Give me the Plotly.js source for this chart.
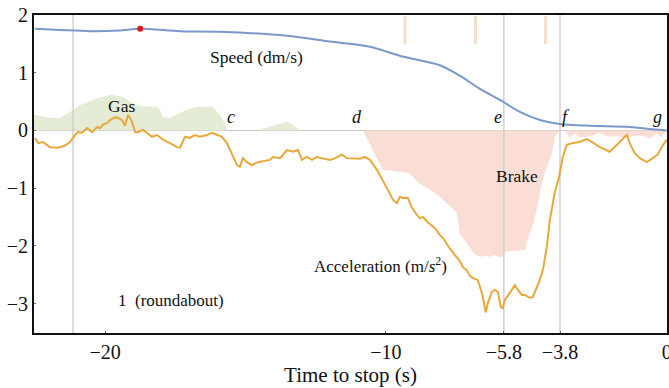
<!DOCTYPE html>
<html>
<head>
<meta charset="utf-8">
<script src="https://cdn.plot.ly/plotly-3.0.1.min.js"></script>
<style>
  html, body { margin: 0; padding: 0; background: #fff; }
  #chart { width: 669px; height: 388px; }
</style>
</head>
<body>
<div id="chart"></div>
<script>
// Time to stop (s)
const accelTime = [-22.49,-22.38,-22.21,-21.96,-21.67,-21.46,-21.25,-21.07,-20.96,-20.82,-20.64,-20.46,-20.28,-20.18,-20.07,-19.93,-19.82,-19.64,-19.54,-19.40,-19.29,-19.18,-19.04,-18.93,-18.83,-18.65,-18.51,-18.33,-18.15,-17.94,-17.69,-17.44,-17.33,-17.15,-16.98,-16.80,-16.62,-16.37,-16.19,-16.01,-15.84,-15.66,-15.48,-15.30,-15.20,-15.09,-14.95,-14.77,-14.56,-14.31,-14.13,-14.02,-13.77,-13.52,-13.31,-13.13,-12.99,-12.81,-12.63,-12.46,-12.24,-11.99,-11.81,-11.57,-11.39,-11.17,-10.92,-10.75,-10.57,-10.32,-10.11,-9.93,-9.75,-9.61,-9.50,-9.40,-9.22,-9.08,-8.90,-8.79,-8.68,-8.51,-8.26,-8.08,-7.97,-7.72,-7.54,-7.37,-7.26,-7.12,-7.01,-6.90,-6.73,-6.58,-6.44,-6.37,-6.23,-6.12,-6.01,-5.91,-5.84,-5.77,-5.59,-5.41,-5.30,-5.16,-5.05,-4.88,-4.77,-4.63,-4.52,-4.41,-4.27,-4.16,-3.99,-3.84,-3.70,-3.56,-3.35,-3.10,-2.85,-2.67,-2.38,-2.03,-1.85,-1.67,-1.49,-1.42,-1.32,-1.14,-0.96,-0.71,-0.50,-0.32,-0.18,-0.07,0];
// Acceleration (m/s^2)
const accel = [-0.13,-0.22,-0.20,-0.29,-0.30,-0.27,-0.20,-0.08,-0.03,-0.04,0.04,-0.03,0.06,0.04,0.10,0.13,0.18,0.23,0.22,0.18,0.08,0.27,0.15,-0.03,-0.03,0.01,-0.04,-0.11,-0.08,-0.16,-0.22,-0.29,-0.30,-0.11,-0.13,-0.08,-0.11,-0.08,-0.04,-0.08,-0.11,-0.22,-0.42,-0.60,-0.63,-0.48,-0.55,-0.60,-0.55,-0.53,-0.51,-0.46,-0.48,-0.34,-0.37,-0.34,-0.51,-0.46,-0.51,-0.46,-0.48,-0.51,-0.48,-0.42,-0.48,-0.49,-0.49,-0.46,-0.51,-0.68,-0.86,-1.03,-1.20,-1.26,-1.15,-1.17,-1.17,-1.33,-1.46,-1.52,-1.50,-1.59,-1.69,-1.81,-1.86,-2.05,-2.16,-2.26,-2.37,-2.42,-2.52,-2.56,-2.59,-2.82,-3.15,-2.99,-2.80,-2.76,-2.80,-3.06,-3.08,-2.94,-2.82,-2.68,-2.76,-2.85,-2.85,-2.90,-2.89,-2.73,-2.59,-2.42,-2.02,-1.55,-1.08,-0.82,-0.46,-0.25,-0.22,-0.20,-0.15,-0.20,-0.29,-0.37,-0.29,-0.20,-0.11,-0.08,-0.22,-0.39,-0.48,-0.55,-0.48,-0.42,-0.29,-0.20,-0.16];

// Speed (dm/s)
const speedTime = [-22.49,-21.60,-20.53,-19.50,-18.75,-17.33,-15.91,-13.52,-11.99,-10.57,-9.40,-8.08,-7.37,-6.65,-5.94,-5.23,-4.52,-3.81,-2.74,-1.32,-0.50,0];
const speed = [1.76,1.74,1.72,1.73,1.76,1.72,1.71,1.64,1.54,1.45,1.28,1.13,0.95,0.72,0.53,0.32,0.18,0.11,0.08,0.06,0.02,0];
const speedMarkTime = [-18.75];
const speedMarkValue = [1.76];

// Gas pedal
const gasTime = [-22.53,-22.0,-21.6,-21.25,-20.89,-20.25,-19.78,-19.36,-19.07,-18.75,-18.15,-18.05,-17.94,-17.69,-17.09,-16.73,-16.16,-15.84,-15.62,-15.0,-14.56,-14.13,-13.77,-13.52,-13.31,-13.06,-12.5];
const gas = [0.27,0.22,0.22,0.32,0.44,0.56,0.62,0.58,0.49,0.42,0.41,0.36,0.23,0.22,0.36,0.41,0.41,0.22,0,0,0,0.07,0.12,0.15,0.10,0,0];

// Brake pedal (drawn below zero)
const brakeTime = [-11.2,-10.82,-10.45,-10.11,-9.80,-9.50,-9.15,-8.90,-8.60,-8.35,-8.08,-7.80,-7.47,-7.37,-7.20,-7.01,-6.83,-6.65,-6.45,-6.30,-6.15,-6.01,-5.80,-5.73,-5.50,-5.30,-5.05,-4.88,-4.75,-4.63,-4.45,-4.27,-4.09,-3.98,-3.80,-3.62,-3.45,-3.28,-3.10,-2.90,-2.70,-2.40,-2.10,-1.80,-1.50,-1.20,-0.90,-0.60,-0.35,-0.20,0];
const brake = [0,0,-0.36,-0.68,-0.70,-0.72,-0.74,-0.89,-0.97,-1.05,-1.15,-1.28,-1.43,-1.78,-1.90,-2.02,-2.15,-2.19,-2.17,-2.19,-2.16,-2.19,-2.19,-2.10,-2.09,-2.08,-2.07,-1.78,-1.60,-1.38,-0.91,-0.63,-0.40,-0.11,0,0,-0.13,-0.05,-0.12,-0.12,-0.10,-0.04,-0.11,-0.10,-0.12,-0.10,-0.09,-0.14,-0.05,-0.12,0];

// Event markers and pedal ticks
const eventTimes = [-21.14, -5.8, -3.8];
const topTickTimes = [-9.32, -6.81, -4.32];

const xTickVals = [-20, -10, -5.8, -3.8, 0];
const xTickText = ['\u221220', '\u221210', '\u22125.8', '\u22123.8', '0'];
const yTickVals = [-3, -2, -1, 0, 1, 2];
const yTickText = ['\u22123', '\u22122', '\u22121', '0', '1', '2'];

const labelText = ['<i>c</i>', '<i>d</i>', '<i>e</i>', '<i>f</i>', '<i>g</i>'];
const labelTime = [-15.52, -11.03, -6.01, -3.59, -0.32];

const X_RANGE = [-22.53, 0.01];
const Y_RANGE = [-3.51, 2];

const serif = 'Liberation Serif, DejaVu Serif, serif';

const traces = [];
traces.push({ x: gasTime, y: gas, type: 'scatter', mode: 'lines', fill: 'tozeroy',
  fillcolor: 'rgb(228,236,213)', line: { width: 0, color: 'rgba(0,0,0,0)' }, hoverinfo: 'skip' });
traces.push({ x: brakeTime, y: brake, type: 'scatter', mode: 'lines', fill: 'tozeroy',
  fillcolor: 'rgb(250,221,213)', line: { width: 0, color: 'rgba(0,0,0,0)' }, hoverinfo: 'skip' });
eventTimes.forEach(t => traces.push({ x: [t, t], y: Y_RANGE, type: 'scatter', mode: 'lines',
  line: { color: 'rgb(208,208,208)', width: 1.5 }, hoverinfo: 'skip' }));
topTickTimes.forEach(t => traces.push({ x: [t, t], y: [1.5, 1.98], type: 'scatter', mode: 'lines',
  line: { color: 'rgb(246,222,202)', width: 3 }, hoverinfo: 'skip' }));
traces.push({ x: accelTime, y: accel, type: 'scatter', mode: 'lines',
  line: { color: 'rgb(232,168,60)', width: 2 } });
traces.push({ x: speedTime, y: speed, type: 'scatter', mode: 'lines',
  line: { color: 'rgb(122,152,204)', width: 2, shape: 'spline', smoothing: 0.8 } });
traces.push({ x: speedMarkTime, y: speedMarkValue, type: 'scatter', mode: 'markers',
  marker: { color: 'rgb(230,20,20)', size: 6 } });

const annotations = labelText.map((t, i) => ({ x: labelTime[i], y: 0.02, yanchor: 'bottom',
  text: t, showarrow: false, font: { family: serif, size: 18, color: '#111' } }));
annotations.push(
  { x: -14.62, y: 1.27, text: 'Speed (dm/s)', showarrow: false, font: { family: serif, size: 17.5, color: '#111' } },
  { x: -19.43, y: 0.42, text: 'Gas', showarrow: false, font: { family: serif, size: 17.5, color: '#111' } },
  { x: -5.34, y: -0.79, text: 'Brake', showarrow: false, font: { family: serif, size: 17.5, color: '#111' } },
  { x: -10.18, y: -2.33, text: 'Acceleration (m/<i>s</i><sup>2</sup>)', showarrow: false, font: { family: serif, size: 17, color: '#111' } },
  { x: -17.65, y: -2.94, text: '1  (roundabout)', showarrow: false, font: { family: serif, size: 17, color: '#111' } }
);

const layout = {
  width: 669, height: 388,
  margin: { l: 34, r: 2, t: 15, b: 55 },
  paper_bgcolor: '#fff', plot_bgcolor: '#fff',
  showlegend: false,
  font: { family: serif, size: 18, color: '#111' },
  xaxis: {
    range: X_RANGE, tickvals: xTickVals, ticktext: xTickText,
    showgrid: false, zeroline: false, showline: true, mirror: true,
    linecolor: '#111', linewidth: 2, ticks: 'inside', ticklen: 2, tickcolor: '#666',
    ticklabeloverflow: 'allow',
    tickfont: { family: serif, size: 20 },
    title: { text: 'Time to stop (s)', font: { family: serif, size: 21 }, standoff: 2 }
  },
  yaxis: {
    range: Y_RANGE, tickvals: yTickVals, ticktext: yTickText,
    showgrid: false, zeroline: true, zerolinecolor: 'rgb(200,200,200)', zerolinewidth: 1.5,
    showline: true, mirror: true, linecolor: '#111', linewidth: 2,
    ticks: 'inside', ticklen: 2, tickcolor: '#666',
    tickfont: { family: serif, size: 20 }
  },
  annotations: annotations
};

Plotly.newPlot('chart', traces, layout, { displayModeBar: false, staticPlot: true });
</script>
</body>
</html>
